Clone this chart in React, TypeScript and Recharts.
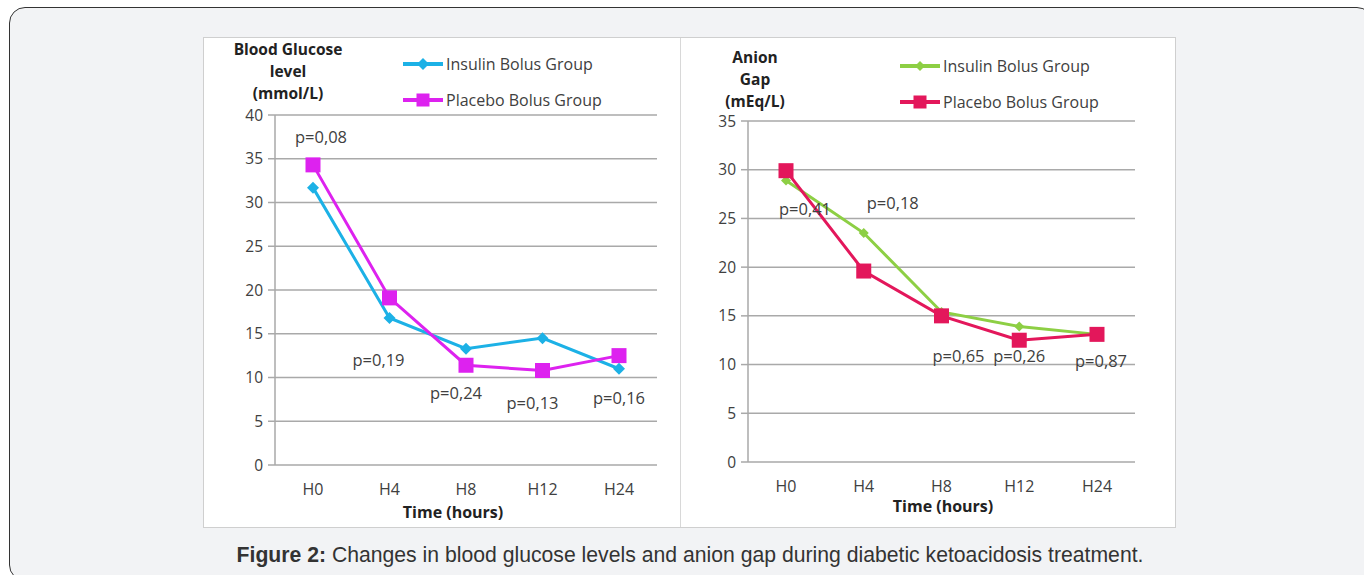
import { CartesianGrid, Legend, Line, LineChart, ReferenceDot, XAxis, YAxis } from "recharts";

const HOURS = ["H0", "H4", "H8", "H12", "H24"];

// blood glucose (mmol/L)
const glucoseInsulin = [31.7, 16.8, 13.3, 14.5, 11.0];
const glucosePlacebo = [34.3, 19.1, 11.4, 10.8, 12.5];
const glucosePValues = ["p=0,08", "p=0,19", "p=0,24", "p=0,13", "p=0,16"];
const glucoseTicks = [0, 5, 10, 15, 20, 25, 30, 35, 40];

// anion gap (mEq/L)
const anionInsulin = [28.9, 23.5, 15.4, 13.9, 13.1];
const anionPlacebo = [29.9, 19.6, 15.0, 12.5, 13.1];
const anionPValues = ["p=0,41", "p=0,18", "p=0,65", "p=0,26", "p=0,87"];
const anionTicks = [0, 5, 10, 15, 20, 25, 30, 35];

const SERIES_NAMES = ["Insulin Bolus Group", "Placebo Bolus Group"];

// where the p labels sit: y in data units, dx nudge in px
const glucoseNotePos = [
  { y: 37.6, dx: 8 },
  { y: 12.1, dx: -11 },
  { y: 8.3, dx: -10 },
  { y: 7.2, dx: -10 },
  { y: 7.7, dx: 0 },
];
const anionNotePos = [
  { y: 26.0, dx: 19 },
  { y: 26.6, dx: 29 },
  { y: 10.9, dx: 17 },
  { y: 10.9, dx: 0 },
  { y: 10.4, dx: 4 },
];

const FONT = "'Open Sans', 'DejaVu Sans', sans-serif";
const TEXT = "#404040";
const GRID = "#a9a9a9";

const diamond = (cx: number, cy: number, r: number, color: string, key?: any) => (
  <path key={key} d={`M${cx},${cy - r}L${cx + r},${cy}L${cx},${cy + r}L${cx - r},${cy}Z`} fill={color} />
);
const square = (cx: number, cy: number, s: number, color: string, key?: any) => (
  <rect key={key} x={cx - s / 2} y={cy - s / 2} width={s} height={s} fill={color} />
);

function LegendBox({ colors, dr }: { colors: string[]; dr: number }) {
  return (
    <div style={{ fontFamily: FONT, fontSize: 16, color: TEXT }}>
      {SERIES_NAMES.map((name, i) => (
        <div key={name} style={{ display: "flex", alignItems: "center", height: 36 }}>
          <svg width={40} height={16} style={{ marginRight: 3 }}>
            <line x1={0} y1={8} x2={40} y2={8} stroke={colors[i]} strokeWidth={4} />
            {i === 0 ? diamond(20, 8, dr, colors[i]) : square(20, 8, 13, colors[i])}
          </svg>
          <span style={{ whiteSpace: "nowrap" }}>{name}</span>
        </div>
      ))}
    </div>
  );
}

type PanelProps = {
  left: number;
  width: number;
  margin: { top: number; right: number; bottom: number; left: number };
  title: string[];
  titleX: number;
  titleY: number;
  insulin: number[];
  placebo: number[];
  pValues: string[];
  notes: { y: number; dx: number }[];
  ticks: number[];
  colors: string[];
  legendPos: { left: number; top: number };
  xTitleX: number;
  xTitleY: number;
  diamondR: number;
};

function Panel(p: PanelProps) {
  const data = HOURS.map((h, i) => ({ hour: h, insulin: p.insulin[i], placebo: p.placebo[i] }));
  const max = p.ticks[p.ticks.length - 1];
  return (
    <div style={{ position: "absolute", left: p.left, top: 38, width: p.width, height: 489 }}>
      <div
        style={{
          position: "absolute",
          left: p.titleX - 80,
          top: p.titleY,
          width: 160,
          textAlign: "center",
          fontFamily: FONT,
          fontWeight: 700,
          fontSize: 15.5,
          lineHeight: "22px",
          color: "#222",
        }}
      >
        {p.title.map((t) => (
          <div key={t}>{t}</div>
        ))}
      </div>
      <LineChart width={p.width} height={489} data={data} margin={p.margin}>
        <CartesianGrid vertical={false} stroke={GRID} strokeWidth={1.5} />
        <XAxis
          dataKey="hour"
          padding={{ left: 38, right: 38 }}
          axisLine={false}
          tickLine={false}
          tickMargin={13}
          height={30}
          tick={{ fill: TEXT, fontSize: 16, fontFamily: FONT }}
        />
        <YAxis
          domain={[0, max]}
          ticks={p.ticks}
          interval={0}
          width={40}
          axisLine={{ stroke: GRID, strokeWidth: 1.5 }}
          tickLine={{ stroke: GRID, strokeWidth: 1.5 }}
          tickSize={7}
          tickMargin={5}
          tick={{ fill: TEXT, fontSize: 15.5, fontFamily: FONT }}
        />
        <Legend
          layout="vertical"
          align="center"
          verticalAlign="middle"
          wrapperStyle={{ left: p.legendPos.left, top: p.legendPos.top, width: "auto" }}
          content={() => <LegendBox colors={p.colors} dr={p.diamondR} />}
        />
        <Line
          dataKey="insulin"
          name={SERIES_NAMES[0]}
          type="linear"
          stroke={p.colors[0]}
          strokeWidth={3}
          isAnimationActive={false}
          dot={(d: any) => diamond(d.cx, d.cy, p.diamondR, p.colors[0], `i${d.index}`)}
          activeDot={false}
        />
        <Line
          dataKey="placebo"
          name={SERIES_NAMES[1]}
          type="linear"
          stroke={p.colors[1]}
          strokeWidth={3}
          isAnimationActive={false}
          dot={(d: any) => square(d.cx, d.cy, 15, p.colors[1], `p${d.index}`)}
          activeDot={false}
        />
        {p.pValues.map((txt, i) => (
          <ReferenceDot
            key={txt + i}
            x={HOURS[i]}
            y={p.notes[i].y}
            r={0}
            ifOverflow="visible"
            shape={(s: any) => (
              <text
                x={s.cx + p.notes[i].dx}
                y={s.cy}
                textAnchor="middle"
                dominantBaseline="central"
                fill={TEXT}
                fontSize={16.5}
                fontFamily={FONT}
              >
                {txt}
              </text>
            )}
          />
        ))}
      </LineChart>
      <div
        style={{
          position: "absolute",
          left: p.xTitleX - 80,
          top: p.xTitleY - 10,
          width: 160,
          textAlign: "center",
          fontFamily: FONT,
          fontWeight: 700,
          fontSize: 16,
          lineHeight: "20px",
          color: "#222",
        }}
      >
        Time (hours)
      </div>
    </div>
  );
}

export default function App() {
  return (
    <div style={{ position: "fixed", left: 0, top: 0, width: 1364, height: 575, background: "#fff", overflow: "hidden" }}>
      <div
        style={{
          position: "absolute",
          left: 9,
          top: 7,
          width: 1362,
          height: 572,
          border: "1.5px solid #333",
          borderRadius: 16,
          background: "#f2f3f5",
        }}
      />
      <div
        style={{
          position: "absolute",
          left: 203,
          top: 37,
          width: 971,
          height: 489,
          background: "#fff",
          border: "1px solid #cfcfcf",
        }}
      />
      <div style={{ position: "absolute", left: 680, top: 38, width: 1, height: 489, background: "#d8d8d8" }} />
      <Panel
        left={204}
        width={476}
        margin={{ top: 77, right: 23, bottom: 32, left: 31 }}
        title={["Blood Glucose", "level", "(mmol/L)"]}
        titleX={84}
        titleY={0}
        insulin={glucoseInsulin}
        placebo={glucosePlacebo}
        pValues={glucosePValues}
        notes={glucoseNotePos}
        ticks={glucoseTicks}
        colors={["#1cb1e6", "#dd22ef"]}
        legendPos={{ left: 199, top: 8 }}
        xTitleX={249}
        xTitleY={474}
        diamondR={6}
      />
      <Panel
        left={681}
        width={494}
        margin={{ top: 83, right: 40, bottom: 35, left: 27 }}
        title={["Anion", "Gap", "(mEq/L)"]}
        titleX={74}
        titleY={8}
        insulin={anionInsulin}
        placebo={anionPlacebo}
        pValues={anionPValues}
        notes={anionNotePos}
        ticks={anionTicks}
        colors={["#8dcf44", "#e3175b"]}
        legendPos={{ left: 219, top: 10 }}
        xTitleX={262}
        xTitleY={468}
        diamondR={5}
      />
      <div
        style={{
          position: "absolute",
          left: 0,
          top: 542,
          width: 1380,
          textAlign: "center",
          fontFamily: "'Liberation Sans', Arial, sans-serif",
          fontSize: 21.2,
          lineHeight: "26px",
          color: "#333",
        }}
      >
        <b>Figure 2:</b> Changes in blood glucose levels and anion gap during diabetic ketoacidosis treatment.
      </div>
    </div>
  );
}
